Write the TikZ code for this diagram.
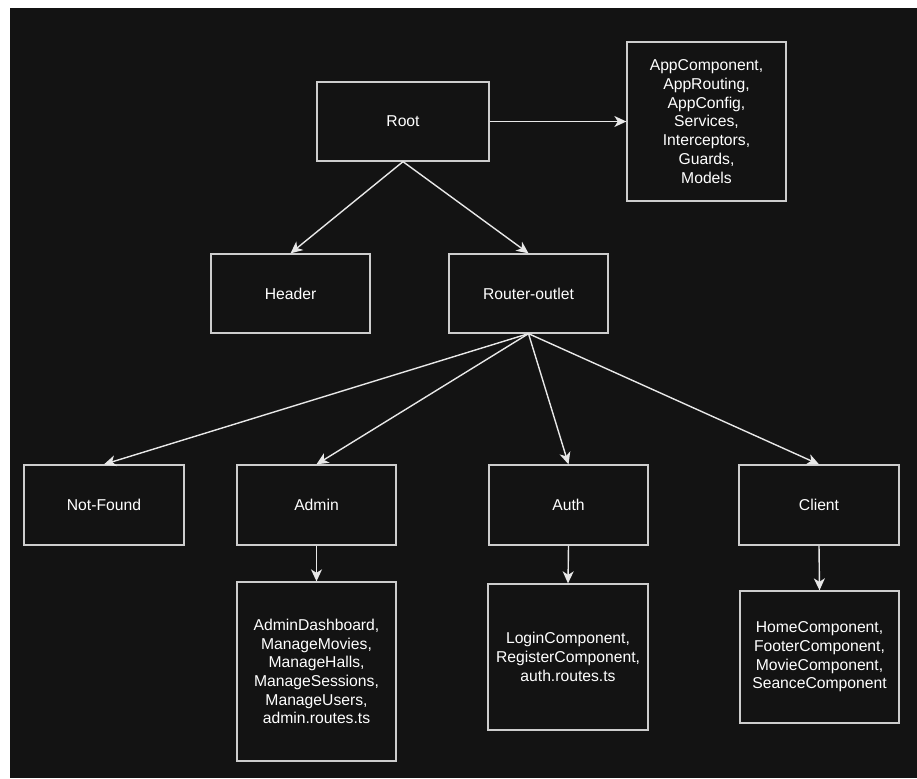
\documentclass[tikz,border=0pt]{standalone}
\usepackage{fontspec}
\setmainfont{Liberation Sans}
\usetikzlibrary{arrows.meta}
\definecolor{bgdark}{RGB}{19,19,19}
\definecolor{boxline}{RGB}{205,205,205}
\definecolor{arrline}{RGB}{232,232,232}
\begin{document}
\begin{tikzpicture}[x=1pt,y=-1pt,every node/.style={font=\fontsize{15.7}{18.7}\selectfont,text=white,align=center},
  blk/.style={draw=boxline,line width=1.3pt,inner sep=0pt},
  lnk/.style={arrline,line width=1.4pt,-{Stealth[length=12pt,width=11pt,inset=3.5pt]}}]
% page and dark canvas
\useasboundingbox (0,0) rectangle (917,778);
\fill[white] (0,0) rectangle (917,778);
\fill[bgdark] (10,8) rectangle (917,778);
% top row
\node[blk,minimum width=172pt,minimum height=79pt] (root) at (403,121.5) {Root};
\node[blk,minimum width=159pt,minimum height=159pt] (apps) at (706.5,121.5) {AppComponent,\\AppRouting,\\AppConfig,\\Services,\\Interceptors,\\Guards,\\Models};
\node[blk,minimum width=159pt,minimum height=79pt] (header) at (290.5,293.5) {Header};
\node[blk,minimum width=159pt,minimum height=79pt] (outlet) at (528.5,293.5) {Router-outlet};
% route modules
\node[blk,minimum width=160pt,minimum height=80pt] (notfound) at (104,505) {Not-Found};
\node[blk,minimum width=159pt,minimum height=80pt] (admin) at (316.5,505) {Admin};
\node[blk,minimum width=159pt,minimum height=80pt] (auth) at (568.5,505) {Auth};
\node[blk,minimum width=160pt,minimum height=80pt] (client) at (819,505) {Client};
% module contents
\node[blk,minimum width=159pt,minimum height=179pt] (adminsub) at (316.5,671.5) {AdminDashboard,\\ManageMovies,\\ManageHalls,\\ManageSessions,\\ManageUsers,\\admin.routes.ts};
\node[blk,minimum width=160pt,minimum height=146pt] (authsub) at (568,657) {LoginComponent,\\RegisterComponent,\\auth.routes.ts};
\node[blk,minimum width=159pt,minimum height=132pt] (clientsub) at (819.5,657) {HomeComponent,\\FooterComponent,\\MovieComponent,\\SeanceComponent};
% connectors
\draw[lnk] (root.east) -- (apps.west);
\draw[lnk] (root.south) -- (header.north);
\draw[lnk] (root.south) -- (outlet.north);
\foreach \m in {notfound,admin,auth,client} \draw[lnk] (outlet.south) -- (\m.north);
\foreach \m in {admin,auth,client} \draw[lnk] (\m.south) -- (\m sub.north);
\end{tikzpicture}
\end{document}
